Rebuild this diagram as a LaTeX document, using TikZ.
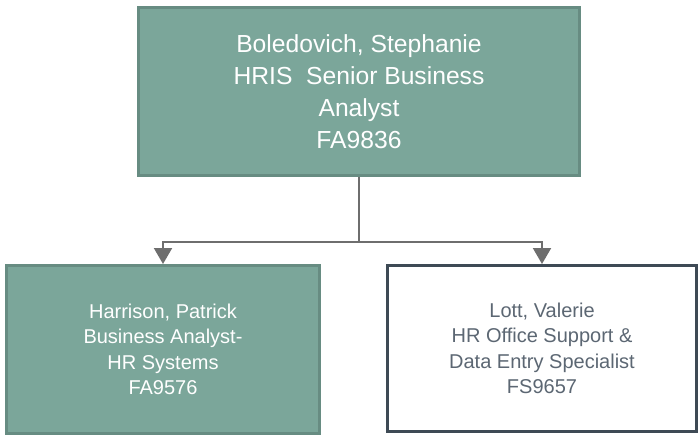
\documentclass[tikz,border=0pt]{standalone}
\usepackage{fontspec}
\setmainfont{Liberation Sans}
\usetikzlibrary{arrows.meta}
\definecolor{tealfill}{HTML}{7BA69A}
\definecolor{tealline}{HTML}{678C82}
\definecolor{slateline}{HTML}{3E4A55}
\definecolor{slatetext}{HTML}{5C6773}
\definecolor{connline}{HTML}{6E6E6E}
\tikzset{
  topbox/.style={draw=tealline, fill=tealfill, line width=2.25pt, text=white,
    align=center, inner sep=0pt, font=\fontsize{18.5}{24}\selectfont},
  tealbox/.style={draw=tealline, fill=tealfill, line width=2.25pt, text=white,
    align=center, inner sep=0pt, font=\fontsize{15}{19}\selectfont},
  whitebox/.style={draw=slateline, fill=white, line width=2.25pt, text=slatetext,
    align=center, inner sep=0pt, font=\fontsize{15}{19}\selectfont},
  conn/.style={draw=connline, line width=1.5pt,
    -{Triangle[width=13.5pt,length=12pt]}, shorten >=0pt}
}
\begin{document}
\begin{tikzpicture}[x=0.75pt,y=-0.75pt]
\useasboundingbox (0,0) rectangle (700,437);
\node[topbox, minimum width=330.75pt, minimum height=126pt] (top) at (359,91.5)
  {Boledovich, Stephanie\\HRIS~ Senior Business\\Analyst\\FA9836};
\node[tealbox, minimum width=234.75pt, minimum height=126pt] (left) at (163,349.5)
  {Harrison, Patrick\\Business Analyst-\\HR Systems\\FA9576};
\node[whitebox, minimum width=231.75pt, minimum height=124.5pt] (right) at (542,348.5)
  {Lott, Valerie\\HR Office Support \&\\Data Entry Specialist\\FS9657};
\coordinate (j) at (359,242);
\draw[conn] (top.south) -- (j) -| (left.north);
\draw[conn] (j) -| (right.north);
\end{tikzpicture}
\end{document}
